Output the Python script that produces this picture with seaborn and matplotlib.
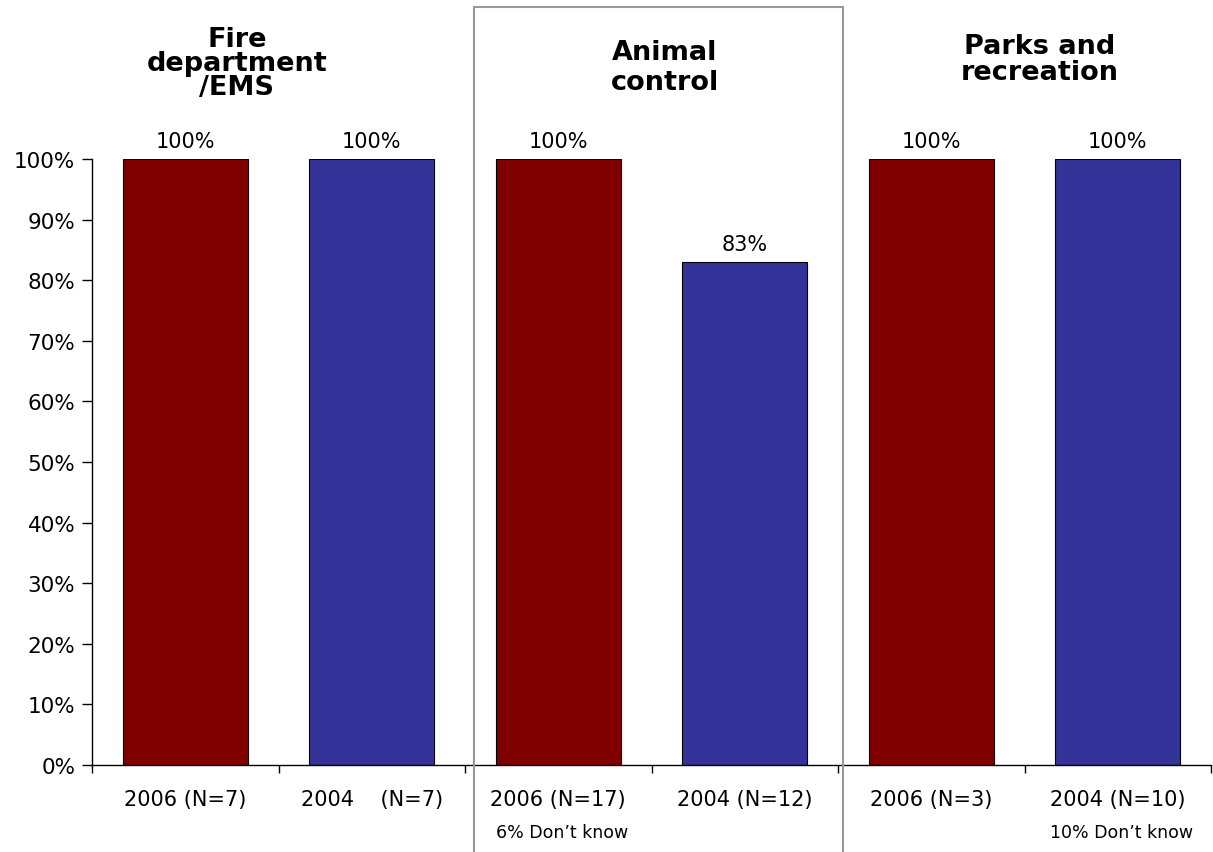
import matplotlib
matplotlib.use("Agg")
import matplotlib.pyplot as plt
import seaborn as sns
import pandas as pd
from matplotlib.patches import Rectangle

labels = ["2006 (N=7)", "2004    (N=7)", "2006 (N=17)", "2004 (N=12)", "2006 (N=3)", "2004 (N=10)"]
years = ["2006", "2004", "2006", "2004", "2006", "2004"]
values = [100, 100, 100, 83, 100, 100]
notes = ["", "", "6% Don\u2019t know", "", "", "10% Don\u2019t know"]
groups = ["Fire\ndepartment\n/EMS", "Animal\ncontrol", "Parks and\nrecreation"]
yticks = [0, 10, 20, 30, 40, 50, 60, 70, 80, 90, 100]
palette = {"2006": "#800000", "2004": "#333399"}

df = pd.DataFrame({"label": labels, "year": years, "value": values})

sns.set_style("white")
plt.rcParams["font.family"] = ["DejaVu Sans"]
plt.rcParams["text.color"] = "black"
plt.rcParams["xtick.color"] = "black"
plt.rcParams["ytick.color"] = "black"
plt.rcParams["xtick.labelcolor"] = "black"
plt.rcParams["ytick.labelcolor"] = "black"

fig = plt.figure(figsize=(12.13, 8.53), dpi=100)
ax = fig.add_axes([92/1213, 87/853, (1211-92)/1213, (766-160)/853])

sns.barplot(data=df, x="label", y="value", hue="year", palette=palette, dodge=False,
            saturation=1, width=0.67, edgecolor="black", linewidth=0.8, legend=False,
            ax=ax, order=labels)

for c in ax.containers:
    ax.bar_label(c, labels=[f"{v:.0f}%" for v in c.datavalues], padding=6,
                 fontsize=15, color="black")

ax.set_ylim(0, 100)
ax.set_xlim(-0.5, 5.5)
ax.set_yticks(yticks)
ax.set_yticklabels([f"{t}%" for t in yticks], fontsize=15.5)
ax.set_xticks([i - 0.5 for i in range(7)])
ax.set_xticklabels([])
ax.set_xticks(range(6), minor=True)
ax.set_xticklabels(labels, minor=True, fontsize=15)
ax.tick_params(axis="x", which="major", direction="out", length=6, width=1, color="black", bottom=True)
ax.tick_params(axis="x", which="minor", length=0, pad=17)
ax.tick_params(axis="y", direction="out", length=7, width=1, color="black", left=True, pad=5)
ax.set_xlabel("")
ax.set_ylabel("")
for s in ["top", "right"]:
    ax.spines[s].set_visible(False)
for s in ["left", "bottom"]:
    ax.spines[s].set_color("black")
    ax.spines[s].set_linewidth(1)

for i, n in enumerate(notes):
    if n:
        ax.text(i + 0.02, -11.0, n, ha="center", va="center", fontsize=12.5,
                color="black", transform=ax.transData, clip_on=False)

title_pos = [(237, 64), (665, 68), (1040, 60)]
spacing = [0.92, 1.15, 1.05]
for (x, y), g, ls in zip(title_pos, groups, spacing):
    fig.text(x/1213, 1 - y/853, g, ha="center", va="center", fontsize=19.5,
             fontweight="bold", linespacing=ls, color="black")

fig.patches.append(Rectangle((474/1213, -0.05), (843-474)/1213, 1.05 - 8/853,
                             transform=fig.transFigure, fill=False,
                             edgecolor="#999999", linewidth=1.5, zorder=5))

fig.savefig("out.png", dpi=100)
